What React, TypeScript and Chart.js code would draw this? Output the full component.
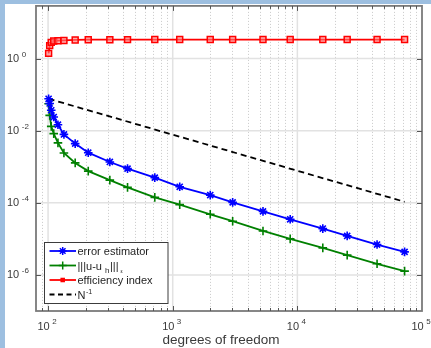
import React, { useEffect, useRef } from 'react';
import { Chart, registerables } from 'chart.js';

Chart.register(...registerables);

// ---- data ----
const dof = [101, 103, 106, 111, 120, 134, 165, 210, 313, 434, 718, 1138, 2000, 3026, 5300, 8760, 16000, 25100, 43600, 72500];
const estimator = [0.077, 0.057, 0.037, 0.024, 0.0147, 0.0079, 0.0044, 0.00246, 0.00136, 0.00089, 0.0005, 0.000279, 0.000164, 0.000103, 5.8e-5, 3.5e-5, 1.93e-5, 1.21e-5, 6.96e-6, 4.37e-6];
const errorNorm = [0.056, 0.0266, 0.0132, 0.0083, 0.0046, 0.00242, 0.00128, 0.00076, 0.000427, 0.000269, 0.000142, 8.9e-5, 4.81e-5, 3.09e-5, 1.66e-5, 1.0e-5, 5.63e-6, 3.55e-6, 2.04e-6, 1.28e-6];
const efficiency = [1.4, 2.29, 2.82, 3.1, 3.15, 3.2, 3.3, 3.35, 3.35, 3.37, 3.38, 3.38, 3.38, 3.38, 3.38, 3.38, 3.38, 3.38, 3.38, 3.38];
const refDof = [101, 72500];
const refRate = [0.077, 1.07e-4];

const xTickValues = [100, 1000, 10000, 100000];
const xTickExps = ['2', '3', '4', '5'];
const yTickValues = [1, 1e-2, 1e-4, 1e-6];
const yTickExps = ['0', '-2', '-4', '-6'];
const xTitle = 'degrees of freedom';
const legendNames = ['error estimator', '|||u-u', 'efficiency index', 'N'];

const FONT = '"Liberation Sans", Arial, Helvetica, sans-serif';
const AXIS_COLOR = '#7a7a7a';
const TEXT_COLOR = '#3a3a3a';

const pts = (xs: number[], ys: number[]) => xs.map((x, i) => ({ x, y: ys[i] }));

function drawMarker(ctx: CanvasRenderingContext2D, style: string, x: number, y: number, r: number, color: string, lw: number) {
  ctx.save();
  ctx.strokeStyle = color;
  ctx.lineWidth = lw;
  ctx.beginPath();
  if (style === 'star' || style === 'cross') {
    ctx.moveTo(x - r, y); ctx.lineTo(x + r, y);
    ctx.moveTo(x, y - r); ctx.lineTo(x, y + r);
    if (style === 'star') {
      const d = r * Math.SQRT1_2;
      ctx.moveTo(x - d, y - d); ctx.lineTo(x + d, y + d);
      ctx.moveTo(x - d, y + d); ctx.lineTo(x + d, y - d);
    }
    ctx.stroke();
  } else if (style === 'rect') {
    const s = r * Math.SQRT1_2;
    ctx.fillStyle = color;
    ctx.fillRect(x - s, y - s, 2 * s, 2 * s);
  }
  ctx.restore();
}

const axesPlugin = {
  id: 'matlabAxes',
  beforeDatasetsDraw(chart: any) {
    const { ctx, chartArea: a, scales } = chart;
    const xs = scales.x, ys = scales.y;
    ctx.save();
    // x minor dotted grid
    ctx.strokeStyle = '#c9c9c9';
    ctx.lineWidth = 1;
    ctx.setLineDash([1, 2]);
    for (let e = 1; e <= 4; e++) {
      for (let m = 2; m <= 9; m++) {
        const v = m * Math.pow(10, e);
        if (v <= xs.min || v >= xs.max) continue;
        const px = Math.round(xs.getPixelForValue(v)) + 0.5;
        ctx.beginPath(); ctx.moveTo(px, a.top); ctx.lineTo(px, a.bottom); ctx.stroke();
      }
    }
    ctx.setLineDash([]);
    // major grids
    ctx.strokeStyle = '#e2e2e2';
    ctx.lineWidth = 1.5;
    xTickValues.forEach((v) => {
      if (v <= xs.min || v >= xs.max) return;
      const px = xs.getPixelForValue(v);
      ctx.beginPath(); ctx.moveTo(px, a.top); ctx.lineTo(px, a.bottom); ctx.stroke();
    });
    yTickValues.forEach((v) => {
      const py = ys.getPixelForValue(v);
      ctx.beginPath(); ctx.moveTo(a.left, py); ctx.lineTo(a.right, py); ctx.stroke();
    });
    ctx.restore();
  },
  afterDatasetsDraw(chart: any) {
    const { ctx, chartArea: a, scales } = chart;
    const xs = scales.x, ys = scales.y;
    ctx.save();
    // box
    ctx.strokeStyle = AXIS_COLOR;
    ctx.lineWidth = 1.8;
    ctx.strokeRect(a.left, a.top, a.right - a.left, a.bottom - a.top);
    // x ticks (minor + major), bottom and top, pointing inward
    ctx.lineWidth = 1;
    ctx.strokeStyle = '#555';
    for (let e = 1; e <= 4; e++) {
      for (let m = 1; m <= 9; m++) {
        const v = m * Math.pow(10, e);
        if (v <= xs.min || v >= xs.max) continue;
        const len = m === 1 ? 5 : 3;
        const px = Math.round(xs.getPixelForValue(v)) + 0.5;
        ctx.beginPath();
        ctx.moveTo(px, a.bottom); ctx.lineTo(px, a.bottom - len);
        ctx.moveTo(px, a.top); ctx.lineTo(px, a.top + len);
        ctx.stroke();
      }
    }
    yTickValues.forEach((v) => {
      const py = Math.round(ys.getPixelForValue(v)) + 0.5;
      ctx.beginPath();
      ctx.moveTo(a.left, py); ctx.lineTo(a.left + 5, py);
      ctx.moveTo(a.right, py); ctx.lineTo(a.right - 5, py);
      ctx.stroke();
    });
    // tick labels
    ctx.fillStyle = TEXT_COLOR;
    ctx.textBaseline = 'alphabetic';
    ctx.textAlign = 'left';
    const big = `11px ${FONT}`;
    const small = `8px ${FONT}`;
    xTickValues.forEach((v, i) => {
      const px = xs.getPixelForValue(v);
      ctx.font = big;
      const w1 = ctx.measureText('10').width;
      ctx.font = small;
      const w2 = ctx.measureText(xTickExps[i]).width;
      const total = w1 + 2.5 + w2;
      const left = px - total / 2 - 1;
      ctx.font = big;
      ctx.fillText('10', left, a.bottom + 18.5);
      ctx.font = small;
      ctx.fillText(xTickExps[i], left + w1 + 2.5, a.bottom + 13);
    });
    yTickValues.forEach((v, i) => {
      const py = ys.getPixelForValue(v);
      ctx.font = big;
      const w1 = ctx.measureText('10').width;
      ctx.fillText('10', 7, py + 3.5);
      ctx.font = small;
      ctx.fillText(yTickExps[i], 7 + w1 + 2.5, py - 1.5);
    });
    // x title
    ctx.font = `13.5px ${FONT}`;
    ctx.textAlign = 'center';
    ctx.fillText(xTitle, 221, 344);

    // legend
    const lx = 44.5, ly = 242.5, lw = 123.5, lh = 61;
    ctx.fillStyle = '#ffffff';
    ctx.fillRect(lx, ly, lw, lh);
    ctx.strokeStyle = '#3c3c3c';
    ctx.lineWidth = 1;
    ctx.strokeRect(lx, ly, lw, lh);
    const rows = [251, 265.5, 280, 294.5];
    const ds = chart.data.datasets;
    const styles = ['star', 'cross', 'rect', ''];
    ds.forEach((d: any, i: number) => {
      const y = rows[i];
      ctx.save();
      ctx.strokeStyle = d.borderColor;
      ctx.lineWidth = d.borderWidth;
      if (d.borderDash) ctx.setLineDash([5, 3.5]);
      ctx.beginPath();
      ctx.moveTo(49.5, y); ctx.lineTo(76, y); ctx.stroke();
      ctx.restore();
      if (styles[i]) drawMarker(ctx, styles[i], 62.7, y, styles[i] === 'rect' ? 3.2 : 4, d.borderColor, 1.5);
    });
    ctx.fillStyle = '#1e1e1e';
    ctx.textAlign = 'left';
    ctx.font = `11px ${FONT}`;
    const tx = 77.5;
    ctx.fillText(legendNames[0], tx, rows[0] + 4);
    ctx.fillText(legendNames[2], tx, rows[2] + 4);
    // |||u-u_h|||_eps
    let cx = tx;
    ctx.font = `11px ${FONT}`;
    ctx.fillText(legendNames[1], cx, rows[1] + 4);
    cx += ctx.measureText(legendNames[1]).width + 3;
    ctx.font = `8px ${FONT}`;
    ctx.fillText('h', cx, rows[1] + 7);
    cx += ctx.measureText('h').width + 0.5;
    ctx.font = `11px ${FONT}`;
    ctx.fillText('|||', cx, rows[1] + 4);
    cx += ctx.measureText('|||').width + 2;
    ctx.font = `5px ${FONT}`;
    ctx.fillText('\u03b5', cx, rows[1] + 7);
    // N^-1
    ctx.font = `11px ${FONT}`;
    ctx.fillText(legendNames[3], tx, rows[3] + 4);
    const wn = ctx.measureText(legendNames[3]).width;
    ctx.font = `7px ${FONT}`;
    ctx.fillText('-1', tx + wn + 0.5, rows[3] - 0.5);
    ctx.restore();
  },
};

export default function App() {
  const ref = useRef<HTMLCanvasElement | null>(null);
  useEffect(() => {
    document.body.style.margin = '0';
    const canvas = ref.current!;
    const chart = new Chart(canvas, {
      type: 'line',
      data: {
        datasets: [
          {
            label: 'error estimator',
            data: pts(dof, estimator),
            borderColor: '#0000ff',
            backgroundColor: '#0000ff',
            borderWidth: 1.8,
            pointStyle: 'star',
            pointRadius: 4.3,
            pointBorderWidth: 1.6,
            tension: 0,
          },
          {
            label: '|||u-u_h|||',
            data: pts(dof, errorNorm),
            borderColor: '#008000',
            backgroundColor: '#008000',
            borderWidth: 1.8,
            pointStyle: 'cross',
            pointRadius: 4.3,
            pointBorderWidth: 1.6,
            tension: 0,
          },
          {
            label: 'efficiency index',
            data: pts(dof, efficiency),
            borderColor: '#ff0000',
            backgroundColor: 'rgba(255,120,120,0.6)',
            borderWidth: 1.8,
            pointStyle: 'rect',
            pointRadius: 4.2,
            pointBorderWidth: 1.5,
            tension: 0,
          },
          {
            label: 'N^-1',
            data: pts(refDof, refRate),
            borderColor: '#000000',
            backgroundColor: '#000000',
            borderWidth: 1.8,
            borderDash: [6, 4],
            pointRadius: 0,
            tension: 0,
          },
        ],
      },
      options: {
        animation: false,
        responsive: false,
        devicePixelRatio: 1,
        parsing: true,
        layout: { padding: { left: 36, top: 5, right: 9, bottom: 37 } },
        plugins: { legend: { display: false }, tooltip: { enabled: false } },
        scales: {
          x: { type: 'logarithmic', min: 80, max: 100000, display: false },
          y: { type: 'logarithmic', min: 1e-7, max: 29, display: false },
        },
      },
      plugins: [axesPlugin],
    });
    return () => chart.destroy();
  }, []);

  return (
    <div style={{ position: 'relative', width: 431, height: 348, background: '#ffffff', overflow: 'hidden' }}>
      <div style={{ position: 'absolute', left: 0, top: 0, width: 431, height: 4, background: '#9dbfe0' }} />
      <div style={{ position: 'absolute', left: 0, top: 0, width: 5, height: 348, background: '#9dbfe0' }} />
      <canvas ref={ref} width={431} height={348} style={{ position: 'absolute', left: 0, top: 0, width: 431, height: 348 }} />
    </div>
  );
}
